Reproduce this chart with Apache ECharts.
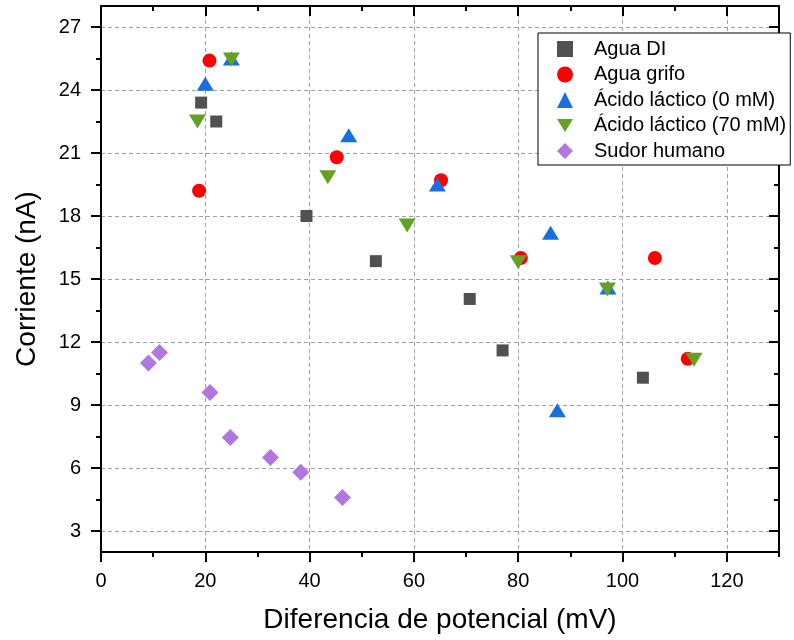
<!DOCTYPE html>
<html>
<head>
<meta charset="utf-8">
<script src="https://cdn.jsdelivr.net/npm/echarts@6/dist/echarts.min.js"></script>
<style>
  html, body { margin: 0; padding: 0; background: #fff; }
  #chart { width: 794px; height: 640px; }
</style>
</head>
<body>
<div id="chart"></div>
<script>
// Measurements: [potential difference (mV), current (nA)]
const aguaDI      = [[19.2, 23.4], [22.1, 22.5], [39.4, 18.0], [52.7, 15.85], [70.7, 14.05], [77.0, 11.6], [103.9, 10.3]];
const aguaGrifo   = [[18.8, 19.2], [20.8, 25.4], [45.2, 20.8], [65.2, 19.7], [80.5, 16.0], [106.2, 16.0], [112.5, 11.2]];
const lactico0    = [[20.0, 24.3], [25.0, 25.5], [47.5, 21.85], [64.5, 19.5], [86.2, 17.2], [97.2, 14.6], [87.5, 8.75]];
const lactico70   = [[18.5, 22.5], [25.0, 25.45], [43.5, 19.85], [58.7, 17.55], [80.0, 15.8], [97.1, 14.5], [113.7, 11.15]];
const sudorHumano = [[9.1, 11.0], [11.2, 11.5], [20.9, 9.6], [24.8, 7.45], [32.5, 6.5], [38.3, 5.8], [46.3, 4.6]];

const seriesNames = ['Agua DI', 'Agua grifo', 'Ácido láctico (0 mM)', 'Ácido láctico (70 mM)', 'Sudor humano'];

// Axis ranges and tick positions
const xRange = [0, 130];
const yRange = [2, 28];
const xMajor = [0, 20, 40, 60, 80, 100, 120];
const xMinor = [10, 30, 50, 70, 90, 110, 130];
const yMajor = [3, 6, 9, 12, 15, 18, 21, 24, 27];
const yMinor = [4.5, 7.5, 10.5, 13.5, 16.5, 19.5, 22.5, 25.5];

const FONT = '"Liberation Sans", Arial, sans-serif';
const DOWN_TRIANGLE = 'path://M0,0L10,0L5,8Z';

// Plot area in pixels
const GRID = { left: 101, right: 15, top: 6, bottom: 88 };
const PLOT_W = 794 - GRID.left - GRID.right;
const PLOT_H = 640 - GRID.top - GRID.bottom;

const lineStyle = { color: '#000', width: 2 };

// The mirrored frame axes (top/right) are drawn as bottom/left axes shifted
// across the plot, so their outward ticks point into the plot area.
function axis(kind, ticks, opts) {
  const isX = kind === 'x';
  return Object.assign({
    type: 'value',
    position: isX ? 'bottom' : 'left',
    offset: opts.mirror ? -(isX ? PLOT_H : PLOT_W) : 0,
    min: isX ? xRange[0] : yRange[0],
    max: isX ? xRange[1] : yRange[1],
    axisLine: { show: !!opts.line, onZero: false, lineStyle: lineStyle },
    axisTick: { show: true, inside: false, length: opts.len, customValues: ticks, lineStyle: lineStyle },
    axisLabel: opts.labels
      ? { show: true, customValues: ticks, fontSize: 20, color: '#000', fontFamily: FONT, margin: isX ? 19 : 20,
          showMinLabel: true, showMaxLabel: true }
      : { show: false },
    splitLine: opts.grid
      ? { show: true, lineStyle: { color: '#a0a0a0', width: 1, type: [4, 3] } }
      : { show: false },
    minorTick: { show: false },
    minorSplitLine: { show: false }
  }, opts.extra || {});
}

const chart = echarts.init(document.getElementById('chart'), null, { renderer: 'canvas' });

chart.setOption({
  animation: false,
  backgroundColor: '#fff',
  textStyle: { fontFamily: FONT },
  grid: { left: GRID.left, right: GRID.right, top: GRID.top, bottom: GRID.bottom, containLabel: false },
  xAxis: [
    axis('x', xMajor, { line: true, len: 10, labels: true, grid: true, extra: {
      name: 'Diferencia de potencial (mV)', nameLocation: 'middle', nameGap: 54,
      nameTextStyle: { fontSize: 28, color: '#000', fontFamily: FONT } } }),
    axis('x', xMinor, { len: 5 }),
    axis('x', xMajor, { line: true, mirror: true, len: 10 }),
    axis('x', xMinor, { mirror: true, len: 5 })
  ],
  yAxis: [
    axis('y', yMajor, { line: true, len: 10, labels: true, grid: true, extra: {
      name: 'Corriente (nA)', nameLocation: 'middle', nameGap: 60,
      nameTextStyle: { fontSize: 28, color: '#000', fontFamily: FONT } } }),
    axis('y', yMinor, { len: 5 }),
    axis('y', yMajor, { line: true, mirror: true, len: 10 }),
    axis('y', yMinor, { mirror: true, len: 5 })
  ],
  legend: {
    orient: 'vertical',
    left: 538,
    top: 33,
    padding: [6, 4, 4, 19],
    itemGap: 5.5,
    itemWidth: 16,
    itemHeight: 16,
    backgroundColor: '#fff',
    borderColor: '#000',
    borderWidth: 1,
    borderRadius: 0,
    z: 10,
    textStyle: { fontSize: 20, color: '#000', fontFamily: FONT, padding: [0, 0, 0, 16] },
    data: [
      { name: seriesNames[0], icon: 'rect' },
      { name: seriesNames[1], icon: 'circle' },
      { name: seriesNames[2], icon: 'triangle' },
      { name: seriesNames[3], icon: DOWN_TRIANGLE },
      { name: seriesNames[4], icon: 'diamond' }
    ]
  },
  series: [
    { name: seriesNames[0], type: 'scatter', data: aguaDI, symbol: 'rect', symbolSize: 12,
      itemStyle: { color: '#515151', opacity: 1 } },
    { name: seriesNames[1], type: 'scatter', data: aguaGrifo, symbol: 'circle', symbolSize: 14,
      itemStyle: { color: '#ff0000', opacity: 1 } },
    { name: seriesNames[2], type: 'scatter', data: lactico0, symbol: 'triangle', symbolSize: [17, 14],
      itemStyle: { color: '#1a6fdf', opacity: 1 } },
    { name: seriesNames[3], type: 'scatter', data: lactico70, symbol: DOWN_TRIANGLE, symbolSize: [17, 14],
      itemStyle: { color: '#64a024', opacity: 1 } },
    { name: seriesNames[4], type: 'scatter', data: sudorHumano, symbol: 'diamond', symbolSize: 17,
      itemStyle: { color: '#b177de', opacity: 1 } }
  ]
});
</script>
</body>
</html>
